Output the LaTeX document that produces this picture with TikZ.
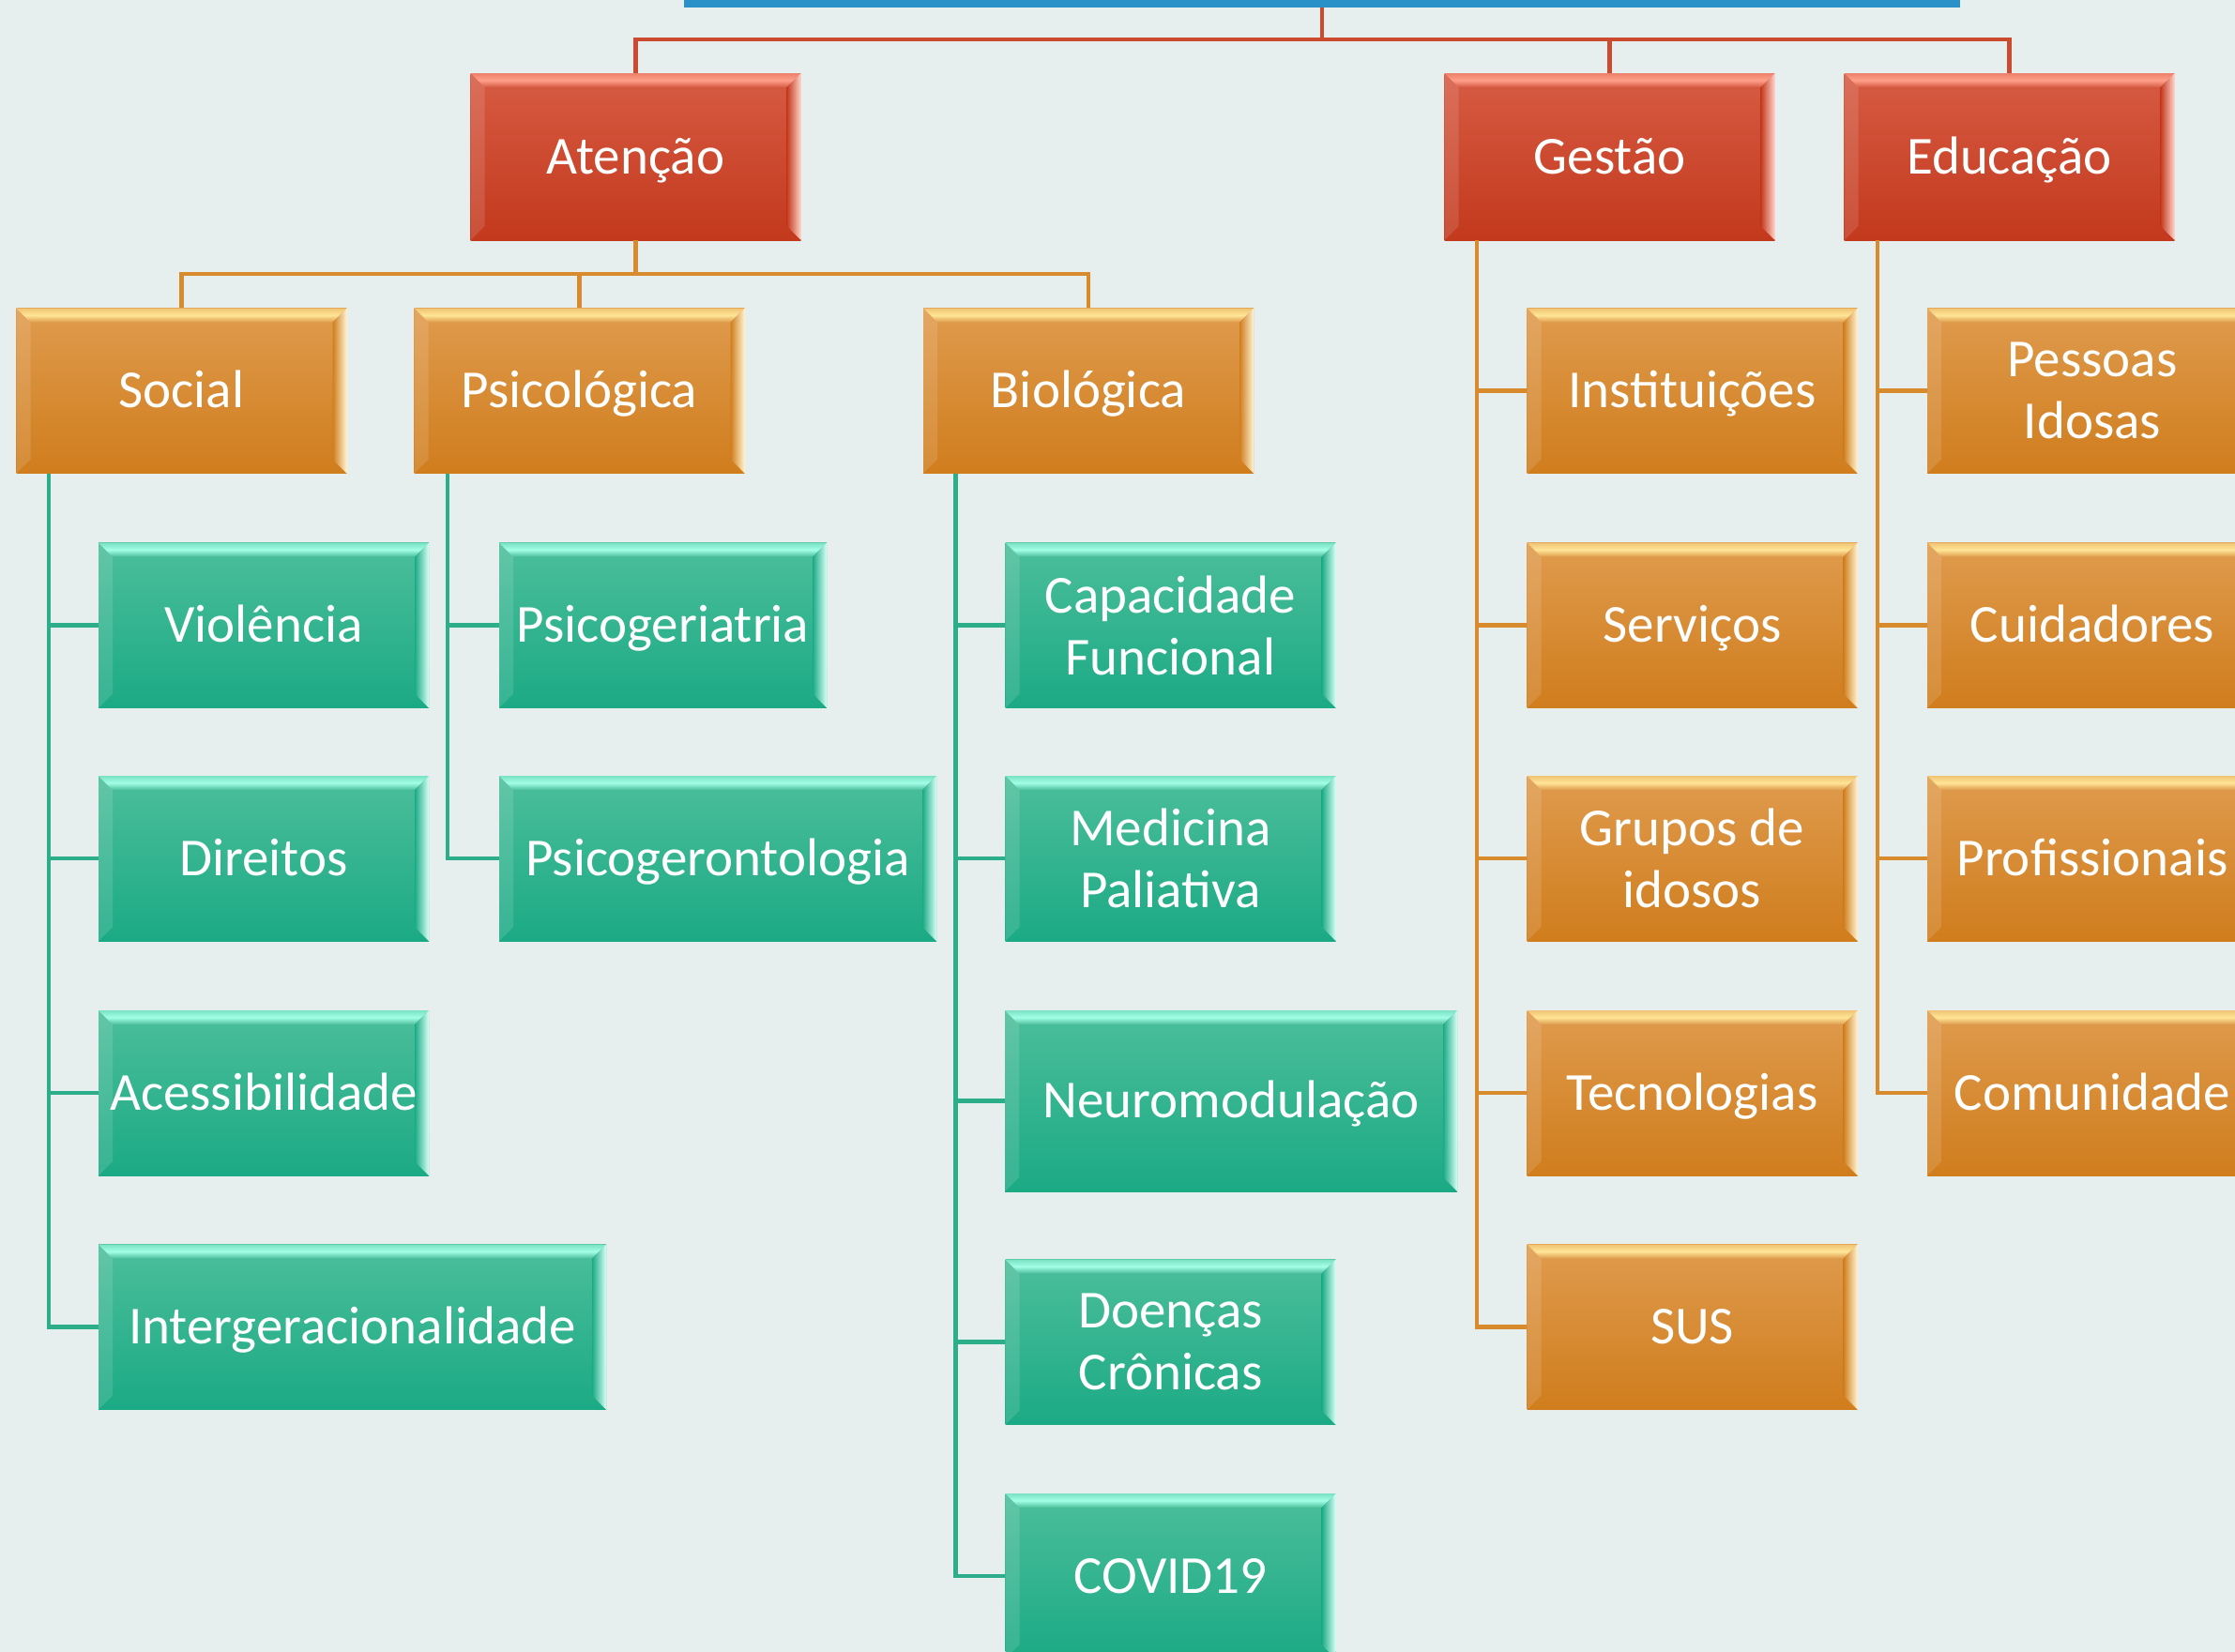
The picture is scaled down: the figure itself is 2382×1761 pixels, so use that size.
\documentclass[tikz,border=0pt]{standalone}
\usepackage{fontspec}
\setmainfont{Carlito}
\newcommand\fsz{\fontsize{28.5}{33}\selectfont}
\definecolor{rT}{HTML}{D65B43}
\definecolor{rB}{HTML}{C3391D}
\definecolor{rH}{HTML}{FF9F8A}
\definecolor{oT}{HTML}{DF9B4D}
\definecolor{oB}{HTML}{D07D1D}
\definecolor{oH}{HTML}{FFE596}
\definecolor{gT}{HTML}{4CBE9A}
\definecolor{gB}{HTML}{1BAA85}
\definecolor{gH}{HTML}{A2FFE6}
\definecolor{lR}{HTML}{CC4A2E}
\definecolor{lO}{HTML}{D88B2C}
\definecolor{lG}{HTML}{2DAE8B}
\definecolor{blu}{HTML}{2A90C8}
\definecolor{bgc}{HTML}{E7EFEE}
\tikzset{
  bx/.style n args={3}{rectangle, inner sep=0pt, minimum width=176pt, minimum height=88pt,
    text=white, font=\fsz, align=center, top color=#1, bottom color=#2,
    path picture={
      \coordinate (pNW) at (path picture bounding box.north west);
      \coordinate (pNE) at (path picture bounding box.north east);
      \coordinate (pSW) at (path picture bounding box.south west);
      \coordinate (pSE) at (path picture bounding box.south east);
      \shade[top color=#3!55!#1, bottom color=#1, middle color=#3]
        (pNW) -- (pNE) -- ([shift={(-7.5pt,-7.5pt)}]pNE) -- ([shift={(7.5pt,-7.5pt)}]pNW) -- cycle;
      \shade[left color=#2, right color=#3!45!white]
        (pNE) -- (pSE) -- ([shift={(-7.5pt,7.5pt)}]pSE) -- ([shift={(-7.5pt,-7.5pt)}]pNE) -- cycle;
      \fill[white, opacity=0.12]
        (pNW) -- ([shift={(7.5pt,-7.5pt)}]pNW) -- ([shift={(7.5pt,7.5pt)}]pSW) -- (pSW) -- cycle;
    }},
  redbox/.style={bx={rT}{rB}{rH}, minimum height=89pt},
  orbox/.style={bx={oT}{oB}{oH}},
  grbox/.style={bx={gT}{gB}{gH}},
  sl/.style={text height=18.4pt, text depth=0pt},
  con/.style={line width=2.25pt},
  rl/.style={con, draw=lR},
  ol/.style={con, draw=lO},
  gl/.style={con, draw=lG},
}
\begin{document}
\begin{tikzpicture}[x=0.5pt,y=-0.5pt]
\fill[bgc] (0,0) rectangle (2382,1761);
\useasboundingbox (0,0) rectangle (2382,1761);
\begin{scope}
\clip (0,0) rectangle (2382,1761);
% top bar
\node[rectangle, inner sep=0pt, fill=blu, minimum width=680pt, minimum height=4pt] (bar) at (1409,3.5) {};
% level 1
\node[redbox, sl] (aten) at (677.5,167) {Atenção};
\node[redbox, sl] (gest) at (1715.5,167) {Gestão};
\node[redbox, sl] (educ) at (2141.5,167) {Educação};
% level 2
\node[orbox, sl] (social) at (193.5,416.5) {Social};
\node[orbox, sl] (psico) at (617.5,416.5) {Psicológica};
\node[orbox, sl] (bio) at (1160,416.5) {Biológica};
\node[orbox, sl] (inst) at (1803.5,416.5) {Instituições};
\node[orbox] (pess) at (2230,416.5) {Pessoas\\Idosas};
% social column
\node[grbox, sl] (viol) at (281,666.5) {Violência};
\node[grbox, sl] (dir) at (281,915) {Direitos};
\node[grbox, sl] (acess) at (281,1165) {Acessibilidade};
\node[grbox, sl, minimum width=270.5pt] (intg) at (375.5,1414.5) {Intergeracionalidade};
% psico column
\node[grbox, sl, minimum width=174.5pt] (psiger) at (706.5,666.5) {Psicogeriatria};
\node[grbox, sl, minimum width=233pt] (psigeron) at (765,915) {Psicogerontologia};
% bio column
\node[grbox] (capac) at (1247.5,666.5) {Capacidade\\Funcional};
\node[grbox] (medic) at (1247.5,915) {Medicina\\Paliativa};
\node[grbox, sl, minimum width=241pt, minimum height=96.5pt] (neuro) at (1312,1173.5) {Neuromodulação};
\node[grbox] (doenc) at (1247.5,1430.5) {Doenças\\Crônicas};
\node[grbox, sl] (covid) at (1247.5,1680) {COVID19};
% gestao column
\node[orbox, sl] (serv) at (1803.5,666.5) {Serviços};
\node[orbox] (grup) at (1803.5,915) {Grupos de\\idosos};
\node[orbox, sl] (tecn) at (1803.5,1165) {Tecnologias};
\node[orbox, sl] (sus) at (1803.5,1414.5) {SUS};
% educacao column
\node[orbox, sl] (cuid) at (2230,666.5) {Cuidadores};
\node[orbox, sl] (prof) at (2230,915) {Profissionais};
\node[orbox, sl] (comu) at (2230,1165) {Comunidade};
% connectors level 0-1
\coordinate (rj) at (1409,42);
\draw[rl] (bar.south) -- (rj);
\draw[rl] (aten.north) |- (rj) -| (educ.north);
\draw[rl] (gest.north) -- (gest.north |- rj);
% connectors Atencao -> level 2
\coordinate (oj) at (677.5,292);
\draw[ol] (aten.south) -- (oj);
\draw[ol] (social.north) |- (oj) -| (bio.north);
\draw[ol] (psico.north) -- (psico.north |- oj);
% side connectors
\foreach \c in {viol,dir,acess,intg}
  \draw[gl] ([xshift=17.5pt]social.south west) |- (\c.west);
\foreach \c in {psiger,psigeron}
  \draw[gl] ([xshift=18pt]psico.south west) |- (\c.west);
\foreach \c in {capac,medic,neuro,doenc,covid}
  \draw[gl] ([xshift=17.5pt]bio.south west) |- (\c.west);
\foreach \c in {inst,serv,grup,tecn,sus}
  \draw[ol] ([xshift=17.5pt]gest.south west) |- (\c.west);
\foreach \c in {pess,cuid,prof,comu}
  \draw[ol] ([xshift=18pt]educ.south west) |- (\c.west);
\end{scope}
\end{tikzpicture}
\end{document}
